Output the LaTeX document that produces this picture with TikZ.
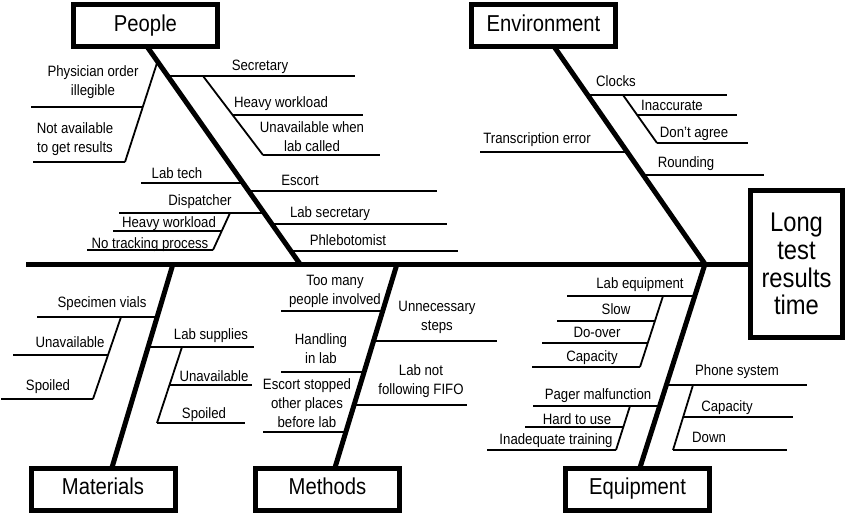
\documentclass[tikz,border=0pt]{standalone}
\usepackage{fontspec}
\setmainfont{Liberation Sans}[FakeStretch=0.88]
\newcommand\ml[1]{\begin{tabular}[b]{@{}c@{}}#1\end{tabular}}
\begin{document}
\begin{tikzpicture}[x=1pt,y=-1pt,
  lbl/.style={font=\fontsize{15}{19}\selectfont, inner sep=0pt, anchor=base},
  catbox/.style={draw, line width=5pt, minimum width=144pt, minimum height=42pt, inner sep=0pt,
     font=\fontsize{23}{27}\selectfont, text height=16pt, text depth=5pt},
  effbox/.style={draw, line width=5pt, minimum width=92pt, minimum height=147pt, inner sep=0pt,
     align=center, font=\fontsize{27}{27.8}\selectfont},
  bone/.style={line width=5pt},
  twig/.style={line width=1.8pt}]
\useasboundingbox (0,0) rectangle (850,515);

% boxes
\node[catbox] (people) at (145.5,25.5) {People};
\node[catbox] (environment) at (543.5,25.5) {Environment};
\node[catbox] (materials) at (103,489) {Materials};
\node[catbox] (methods) at (327.5,489) {Methods};
\node[catbox] (equipment) at (637.5,489) {Equipment};
\node[effbox] (effect) at (796.5,264) {Long\\test\\results\\time};

% spine and bones
\coordinate (tail) at (26,264);
\draw[bone] (tail) -- (effect.west);
\coordinate (pTop) at (147,46.5);
\coordinate (pJ) at (300,264);
\draw[bone] (pTop) -- (pJ);
\coordinate (eTop) at (554,46.5);
\coordinate (eJ) at (705,264);
\coordinate (qBot) at (640,467.5);
\draw[bone] (eTop) -- (eJ) -- (qBot);
\coordinate (mJ) at (173,264);
\coordinate (mBot) at (112,467.5);
\draw[bone] (mJ) -- (mBot);
\coordinate (tJ) at (397,264);
\coordinate (tBot) at (335,467.5);
\draw[bone] (tJ) -- (tBot);

% ---- People
\draw[twig] (166,76) -- (355,76);
\draw[twig] (203,76) -- (263,155);
\draw[twig] (233,115) -- (363,115);
\draw[twig] (263,155) -- (380,155);
\draw[twig] (157,63) -- (125,162);
\draw[twig] (31,107) -- (143,107);
\draw[twig] (33,162) -- (125,162);
\draw[twig] (141,183) -- (242,183);
\draw[twig] (248,191) -- (437,191);
\draw[twig] (119,213) -- (264,213);
\draw[twig] (230,213) -- (213,250);
\draw[twig] (113,231) -- (222,231);
\draw[twig] (87,250) -- (213,250);
\draw[twig] (271,224) -- (447,224);
\draw[twig] (290,251) -- (458,251);

\node[lbl] (l1) at (93,95) {\ml{Physician order\\illegible}};
\node[lbl] (l2) at (75,152) {\ml{Not available\\to get results}};
\node[lbl] (l3) at (260,70) {Secretary};
\node[lbl] (l4) at (281,107) {Heavy workload};
\node[lbl] (l5) at (312,151) {\ml{Unavailable when\\lab called}};
\node[lbl] (l6) at (177,178) {Lab tech};
\node[lbl] (l7) at (300,185) {Escort};
\node[lbl] (l8) at (200,205) {Dispatcher};
\node[lbl] (l9) at (169,227) {Heavy workload};
\node[lbl] (l10) at (150,248) {No tracking process};
\node[lbl] (l11) at (330,217) {Lab secretary};
\node[lbl] (l12) at (348,245) {Phlebotomist};

% ---- Environment
\draw[twig] (480,152) -- (627,152);
\draw[twig] (587,95) -- (727,95);
\draw[twig] (623,95) -- (657,143);
\draw[twig] (637,115) -- (737,115);
\draw[twig] (657,143) -- (748,143);
\draw[twig] (644,175) -- (764,175);

\node[lbl] (e1) at (537,143) {Transcription error};
\node[lbl] (e2) at (616,86) {Clocks};
\node[lbl] (e3) at (672,110) {Inaccurate};
\node[lbl] (e4) at (694,137) {Don't agree};
\node[lbl] (e5) at (686,167) {Rounding};

% ---- Materials
\draw[twig] (37,317) -- (157,317);
\draw[twig] (121,317) -- (93,399);
\draw[twig] (13,355) -- (108,355);
\draw[twig] (1,399) -- (93,399);
\draw[twig] (148,347) -- (254,347);
\draw[twig] (182,347) -- (157,423);
\draw[twig] (170,385) -- (252,385);
\draw[twig] (157,423) -- (245,423);

\node[lbl] (m1) at (102,307) {Specimen vials};
\node[lbl] (m2) at (70,347) {Unavailable};
\node[lbl] (m3) at (48,390) {Spoiled};
\node[lbl] (m4) at (211,339) {Lab supplies};
\node[lbl] (m5) at (214,381) {Unavailable};
\node[lbl] (m6) at (204,418) {Spoiled};

% ---- Methods
\draw[twig] (281,311) -- (383,311);
\draw[twig] (281,372) -- (364,372);
\draw[twig] (263,432) -- (345,432);
\draw[twig] (373,341) -- (497,341);
\draw[twig] (353,405) -- (467,405);

\node[lbl] (t1) at (335,304) {\ml{Too many\\people involved}};
\node[lbl] (t2) at (321,363) {\ml{Handling\\in lab}};
\node[lbl] (t3) at (307,427) {\ml{Escort stopped\\other places\\before lab}};
\node[lbl] (t4) at (437,330) {\ml{Unnecessary\\steps}};
\node[lbl] (t5) at (421,394) {\ml{Lab not\\following FIFO}};

% ---- Equipment
\draw[twig] (567,296) -- (696,296);
\draw[twig] (663,296) -- (640,367);
\draw[twig] (557,321) -- (655,321);
\draw[twig] (542,343) -- (648,343);
\draw[twig] (532,367) -- (640,367);
\draw[twig] (533,406) -- (660,406);
\draw[twig] (630,406) -- (616,450);
\draw[twig] (525,427) -- (623,427);
\draw[twig] (487,450) -- (616,450);
\draw[twig] (667,385) -- (807,385);
\draw[twig] (693,385) -- (673,450);
\draw[twig] (683,417) -- (793,417);
\draw[twig] (673,450) -- (787,450);

\node[lbl] (q1) at (640,288) {Lab equipment};
\node[lbl] (q2) at (616,314) {Slow};
\node[lbl] (q3) at (597,337) {Do-over};
\node[lbl] (q4) at (592,361) {Capacity};
\node[lbl] (q5) at (598,399) {Pager malfunction};
\node[lbl] (q6) at (577,424) {Hard to use};
\node[lbl] (q7) at (556,444) {Inadequate training};
\node[lbl] (q8) at (737,375) {Phone system};
\node[lbl] (q9) at (727,411) {Capacity};
\node[lbl] (q10) at (709,442) {Down};
\end{tikzpicture}
\end{document}
